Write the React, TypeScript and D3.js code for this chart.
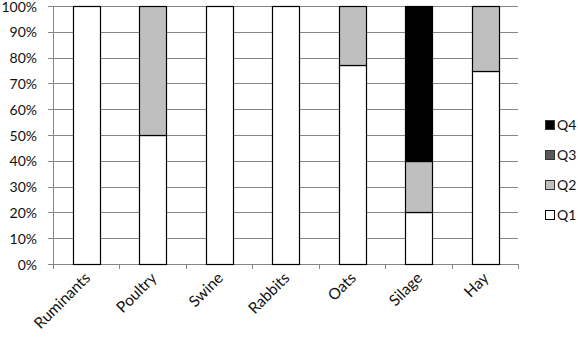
import React from "react";
import * as d3 from "d3";

const categories = ["Ruminants", "Poultry", "Swine", "Rabbits", "Oats", "Silage", "Hay"];
const seriesNames = ["Q1", "Q2", "Q3", "Q4"];
const q1 = [100, 50, 100, 100, 77, 20, 75];
const q2 = [0, 50, 0, 0, 23, 20, 25];
const q3 = [0, 0, 0, 0, 0, 0, 0];
const q4 = [0, 0, 0, 0, 0, 60, 0];
const yTicks = [0, 10, 20, 30, 40, 50, 60, 70, 80, 90, 100];
const colors = ["#ffffff", "#bfbfbf", "#595959", "#000000"];

const W = 578, H = 337;
const left = 53, right = 518, top = 6, bottom = 264;
const font = "Lato, 'Open Sans', sans-serif";

export default function App() {
  const x = d3.scaleBand<string>().domain(categories).range([left, right]).paddingInner(0.6).paddingOuter(0.3);
  const band = d3.scaleBand<string>().domain(categories).range([left, right]);
  const y = d3.scaleLinear().domain([0, 100]).range([bottom, top]);
  const rows = categories.map((c, i) => ({ cat: c, Q1: q1[i], Q2: q2[i], Q3: q3[i], Q4: q4[i] }));
  const stacked = d3.stack<any>().keys(seriesNames)(rows);
  const boundaries = categories.map((c) => band(c)!).concat([right]);

  return (
    <svg width={W} height={H} style={{ position: "absolute", left: 0, top: 0, background: "#fff" }}>
      {yTicks.map((t) => (
        <g key={t}>
          <line x1={left - 5} x2={right} y1={Math.round(y(t)) + 0.5} y2={Math.round(y(t)) + 0.5} stroke="#868686" strokeWidth={1} />
          <text x={37} y={y(t) + 5.5} textAnchor="end" fontFamily={font} fontSize={14} fill="#111">{t}%</text>
        </g>
      ))}
      <line x1={left + 0.5} x2={left + 0.5} y1={top} y2={bottom} stroke="#868686" />
      {boundaries.map((b, i) => (
        <line key={i} x1={Math.round(b) + 0.5} x2={Math.round(b) + 0.5} y1={bottom} y2={bottom + 5} stroke="#868686" />
      ))}
      {stacked.map((s, si) =>
        s.map((d, i) =>
          d[1] - d[0] > 0 ? (
            <rect
              key={si + "-" + i}
              x={Math.round(x(categories[i])!) + 0.5}
              y={Math.round(y(d[1])) + 0.5}
              width={Math.round(x.bandwidth())}
              height={Math.round(y(d[0])) - Math.round(y(d[1]))}
              fill={colors[si]}
              stroke="#000"
              strokeWidth={1.2}
            />
          ) : null
        )
      )}
      {categories.map((c) => {
        const cx = band(c)! + band.bandwidth() / 2 + 5;
        const ty = 279;
        return (
          <text key={c} x={cx} y={ty} textAnchor="end" transform={`rotate(-45,${cx},${ty})`} fontFamily={font} fontSize={15.5} fill="#111">{c}</text>
        );
      })}
      {seriesNames.slice().reverse().map((s, i) => {
        const idx = seriesNames.indexOf(s);
        const ly = 125 + i * 30;
        return (
          <g key={s}>
            <rect x={545.5} y={ly - 4.5} width={9} height={9} fill={colors[idx]} stroke={idx === 0 ? "#000" : "#333"} strokeWidth={1} />
            <text x={557} y={ly + 5} fontFamily={font} fontSize={14} fill="#111">{s}</text>
          </g>
        );
      })}
    </svg>
  );
}
